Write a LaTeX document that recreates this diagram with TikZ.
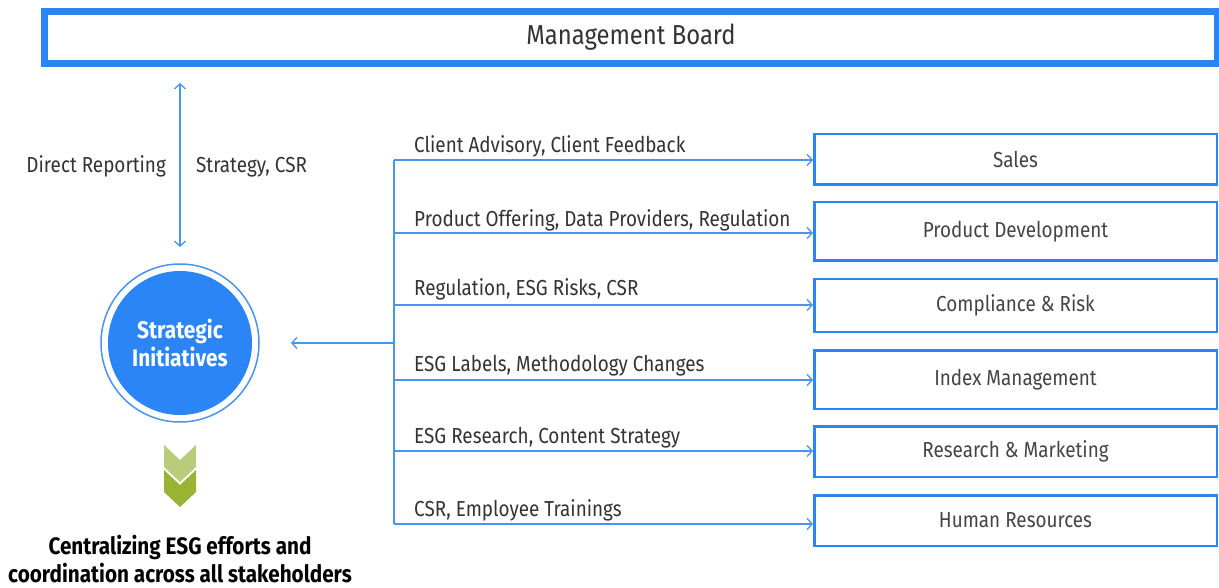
\documentclass[tikz,border=0pt]{standalone}
\usepackage{fontspec}
\setmainfont{Fira Sans}[FakeStretch=0.87]
\usetikzlibrary{arrows.meta}
\definecolor{bblue}{HTML}{2B85F7}
\definecolor{lblue}{HTML}{4A94F0}
\definecolor{gtxt}{HTML}{333333}
\definecolor{btxt}{HTML}{444444}
\definecolor{glight}{HTML}{B8CC7C}
\definecolor{gdark}{HTML}{99B433}
\begin{document}
\begin{tikzpicture}[x=1pt,y=-1pt,
  conn/.style={draw=lblue, line width=1.3pt},
  arr/.style={conn, -{Straight Barb[length=5pt,width=11pt,line width=1.3pt]}},
  dept/.style={draw=bblue, line width=2.5pt, minimum width=402.5pt, inner sep=0pt,
    text=btxt, font=\fontsize{21.7}{24}\selectfont},
  lab/.style={anchor=base west, inner sep=0pt, text=gtxt, font=\fontsize{21.7}{24}\selectfont},
]
\useasboundingbox (0,0) rectangle (1219,588);

% Management board
\node[draw=bblue, line width=7pt, minimum width=1173pt, minimum height=52pt, inner sep=0pt,
  text=gtxt, font=\fontsize{27.4}{30}\selectfont] (board) at (631,37.5) {Management Board};

% Strategic initiatives circle
\node[circle, fill=bblue, minimum size=144pt, inner sep=0pt, text=white, align=center,
  font=\bfseries\fontsize{24}{28}\selectfont] (si) at (180,343) {Strategic\\Initiatives};
\draw[lblue, line width=1.5pt] (si.center) circle[radius=79];

% vertical double arrow
\coordinate (va) at (180,83);
\coordinate (vb) at (180,247);
\draw[conn, {Straight Barb[length=5pt,width=11pt,line width=1.3pt]}-{Straight Barb[length=5pt,width=11pt,line width=1.3pt]}] (va) -- (vb);
\node[anchor=base east, inner sep=0pt, text=gtxt, font=\fontsize{21.7}{24}\selectfont] (dr) at (166,173) {Direct Reporting};
\node[lab] (sc) at (196,173) {Strategy, CSR};

% departments
\node[dept, minimum height=50.5pt] (sales) at (1015.5,159.5) {Sales};
\node[dept, minimum height=58.5pt] (pd) at (1015.5,231.5) {Product Development};
\node[dept, minimum height=52.5pt] (cr) at (1015.5,305.5) {Compliance \& Risk};
\node[dept, minimum height=58.5pt] (im) at (1015.5,379.5) {Index Management};
\node[dept, minimum height=50.5pt] (rm) at (1015.5,451.5) {Research \& Marketing};
\node[dept, minimum height=50.5pt] (hr) at (1015.5,520.5) {Human Resources};

% trunk
\coordinate (t1) at (394,160);
\coordinate (t2) at (394,233);
\coordinate (t3) at (394,305);
\coordinate (t4) at (394,380);
\coordinate (t5) at (394,451);
\coordinate (t6) at (394,524);
\coordinate (tm) at (394,343);
\coordinate (sa) at (291,343);
\draw[conn] (t1) -- (t6);
\draw[arr] (tm) -- (sa);

\draw[arr] (t1) -- (t1 -| sales.west);
\draw[arr] (t2) -- (t2 -| pd.west);
\draw[arr] (t3) -- (t3 -| cr.west);
\draw[arr] (t4) -- (t4 -| im.west);
\draw[arr] (t5) -- (t5 -| rm.west);
\draw[arr] (t6) -- (t6 -| hr.west);

\node[lab] (l1) at (414,153) {Client Advisory, Client Feedback};
\node[lab] (l2) at (414,227) {Product Offering, Data Providers, Regulation};
\node[lab] (l3) at (414,296) {Regulation, ESG Risks, CSR};
\node[lab] (l4) at (414,371) {ESG Labels, Methodology Changes};
\node[lab] (l5) at (414,443) {ESG Research, Content Strategy};
\node[lab] (l6) at (414,516) {CSR, Employee Trainings};

% chevrons
\fill[glight] (164,445) -- (180,460) -- (196,445) -- (196,467) -- (180,482) -- (164,467) -- cycle;
\fill[gdark] (164,470) -- (180,485) -- (196,470) -- (196,492) -- (180,507) -- (164,492) -- cycle;

% bottom text
\node[align=center, inner sep=0pt, text=black, font=\bfseries\fontsize{23.8}{28}\selectfont] (ct) at (180,559)
  {Centralizing ESG efforts and\\coordination across all stakeholders};
\end{tikzpicture}
\end{document}
